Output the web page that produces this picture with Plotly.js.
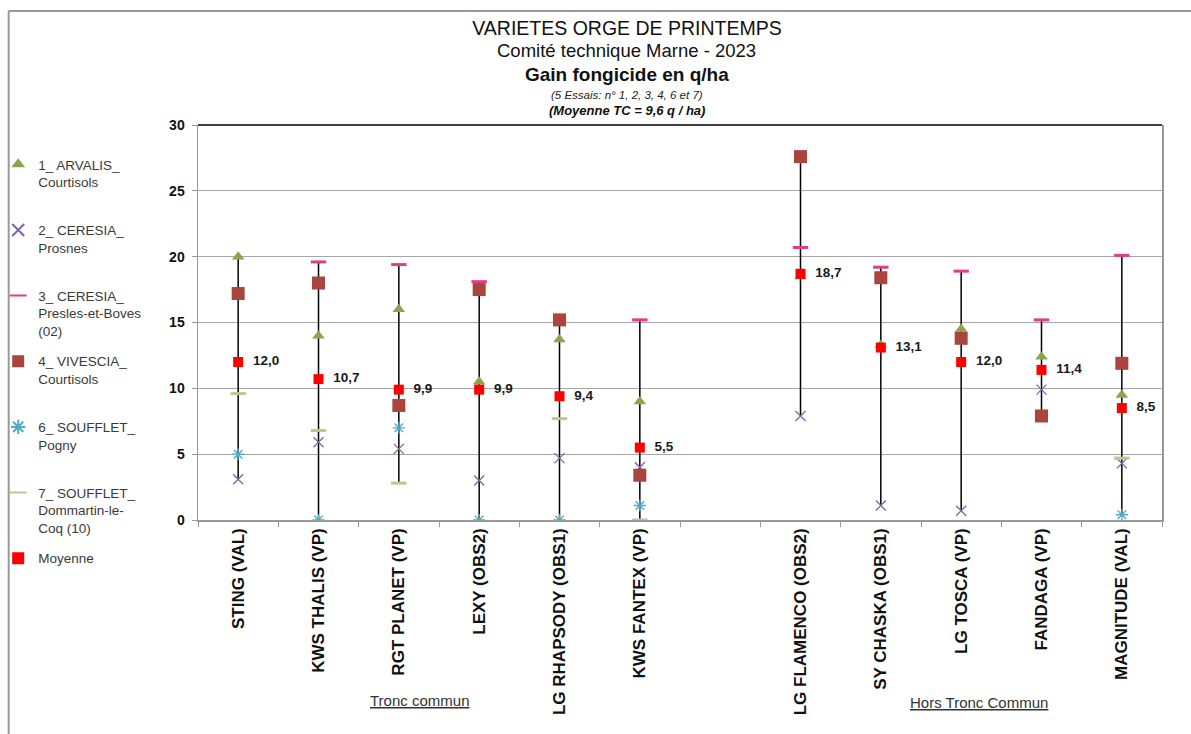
<!DOCTYPE html>
<html>
<head>
<meta charset="utf-8">
<script src="https://cdn.plot.ly/plotly-3.0.1.min.js"></script>
<style>html,body{margin:0;padding:0;background:#fff;}#chart{width:1191px;height:734px;}</style>
</head>
<body>
<div id="chart"></div>
<script>
// Categories (the empty slot separates "Tronc commun" from "Hors Tronc Commun")
const categories = ["STING (VAL)", "KWS THALIS (VP)", "RGT PLANET (VP)", "LEXY (OBS2)", "LG RHAPSODY (OBS1)", "KWS FANTEX (VP)", "\u00a0", "LG FLAMENCO (OBS2)", "SY CHASKA (OBS1)", "LG TOSCA (VP)", "FANDAGA (VP)", "MAGNITUDE (VAL)"];

// Series values (q/ha), null = no value
const arvalis   = [20.0, 14.0, 16.0, 10.5, 13.7, 9.0, null, 18.5, 13.3, 14.5, 12.4, 9.5];
const ceresiaPr = [3.1, 5.9, 5.4, 3.0, 4.7, 4.0, null, 7.9, 1.1, 0.7, 9.9, 4.3];
const ceresiaPB = [null, 19.6, 19.4, 18.1, null, 15.2, null, 20.7, 19.2, 18.9, 15.2, 20.1];
const vivescia  = [17.2, 18.0, 8.7, 17.5, 15.2, 3.4, null, 27.6, 18.4, 13.8, 7.9, 11.9];
const soufPogny = [5.0, 0.0, 7.0, 0.0, 0.0, 1.1, null, null, null, null, null, 0.4];
const soufDom   = [9.6, 6.8, 2.8, null, 7.7, 0.0, null, null, null, null, null, 4.7];
const moyenne   = [12.0, 10.7, 9.9, 9.9, 9.4, 5.5, null, 18.7, 13.1, 12.0, 11.4, 8.5];

const seriesNames = ["1_ ARVALIS_<br>Courtisols<br> ", "2_ CERESIA_<br>Prosnes<br> ", "3_ CERESIA_<br>Presles-et-Boves<br>(02)", "4_ VIVESCIA_<br>Courtisols<br> ", "6_ SOUFFLET_<br>Pogny<br> ", "7_ SOUFFLET_<br>Dommartin-le-<br>Coq (10)", "Moyenne"];
const yTicks = [0, 5, 10, 15, 20, 25, 30];

const allSeries = [arvalis, ceresiaPr, ceresiaPB, vivescia, soufPogny, soufDom, moyenne];

// High-low lines computed from the data
const hlX = [], hlY = [];
categories.forEach((c, i) => {
  const vals = allSeries.map(s => s[i]).filter(v => v !== null && v !== undefined);
  if (vals.length) {
    hlX.push(c, c, null);
    hlY.push(Math.min(...vals), Math.max(...vals), null);
  }
});

const traces = [
  {x: hlX, y: hlY, type: 'scatter', mode: 'lines', line: {color: '#000', width: 1.5}, showlegend: false, hoverinfo: 'skip'},
  {x: categories, y: arvalis, name: seriesNames[0], legendgroup: 'a', type: 'scatter', mode: 'markers',
   marker: {symbol: 'triangle-up', size: 11, color: '#8BA54E'}},
  {x: categories, y: ceresiaPr, name: seriesNames[1], legendgroup: 'b', type: 'scatter', mode: 'markers',
   marker: {symbol: 'x-thin-open', size: 10, color: '#8064A2', line: {width: 1.3, color: '#8064A2'}}},
  {x: categories, y: ceresiaPB, name: seriesNames[2], legendgroup: 'c', type: 'scatter', mode: 'markers',
   marker: {symbol: 'line-ew-open', size: 11, color: '#E03C8A', line: {width: 3, color: '#E03C8A'}}},
  {x: categories, y: vivescia, name: seriesNames[3], legendgroup: 'd', type: 'scatter', mode: 'markers',
   marker: {symbol: 'square', size: 13, color: '#A9443F'}},
  {x: categories, y: soufPogny, name: seriesNames[4], legendgroup: 'e', type: 'scatter', mode: 'markers',
   marker: {symbol: 'asterisk-open', size: 10, color: '#4BACC6', line: {width: 1.3, color: '#4BACC6'}}},
  {x: categories, y: soufDom, name: seriesNames[5], legendgroup: 'f', type: 'scatter', mode: 'markers',
   marker: {symbol: 'line-ew-open', size: 11, color: '#B6CB8F', line: {width: 3, color: '#B6CB8F'}}},
  {x: categories, y: moyenne, name: seriesNames[6], legendgroup: 'g', type: 'scatter', mode: 'markers+text',
   marker: {symbol: 'square', size: 10, color: '#FF0000'},
   text: moyenne.map(v => v === null ? '' : '\u00a0\u00a0' + v.toFixed(1).replace('.', ',')),
   textposition: 'middle right',
   textfont: {family: 'Liberation Sans, Arial, sans-serif', size: 13.5, color: '#1a1a1a', weight: 'bold'}}
];

const PW = 965, PH = 395; // plot width/height in px
const px = x => (x - 198) / PW;
const py = y => (520 - y) / PH;

const layout = {
  width: 1191, height: 734,
  margin: {l: 198, r: 29, t: 125, b: 214, autoexpand: false},
  paper_bgcolor: '#fff', plot_bgcolor: '#fff',
  font: {family: 'Liberation Sans, Arial, sans-serif', color: '#000'},
  title: {text: 'VARIETES ORGE DE PRINTEMPS', x: 627 / 1191, xanchor: 'center', y: 1 - 28 / 734, yanchor: 'middle',
          font: {size: 19.5, color: '#111', family: 'Liberation Sans, Arial, sans-serif'}},
  showlegend: true,
  legend: {x: px(-2), xanchor: 'left', y: py(149), yanchor: 'top', traceorder: 'grouped', tracegroupgap: 10,
           valign: 'top', itemsizing: 'constant', bgcolor: 'rgba(0,0,0,0)', maxheight: 720,
           font: {size: 13.5, color: '#3a3a3a', family: 'Liberation Sans, Arial, sans-serif'}, itemwidth: 30},
  xaxis: {type: 'category', categoryorder: 'array', categoryarray: categories, range: [-0.5, 11.5],
          tickangle: -90, tickfont: {size: 17, color: '#111', weight: 'bold'},
          ticks: 'outside', ticklen: 5, tickcolor: '#999', tickson: 'boundaries',
          showline: true, linecolor: '#999', linewidth: 1.5, showgrid: false, zeroline: false, fixedrange: true},
  yaxis: {range: [0, 30], tickvals: yTicks, ticktext: yTicks.map(String),
          tickfont: {size: 14, color: '#111', weight: 'bold'},
          ticks: 'outside', ticklen: 5, tickcolor: '#999', ticklabelstandoff: 4,
          showline: true, linecolor: '#999', linewidth: 1.5, mirror: true,
          showgrid: true, gridcolor: '#A6A6A6', gridwidth: 1.2, zeroline: false, fixedrange: true},
  shapes: [
    {type: 'line', xref: 'paper', yref: 'paper', x0: 0, x1: 1, y0: 1, y1: 1, line: {color: '#000', width: 1.5}},
    {type: 'line', xref: 'paper', yref: 'paper', x0: px(8.5), x1: px(1200), y0: py(11), y1: py(11), line: {color: '#999', width: 2}},
    {type: 'line', xref: 'paper', yref: 'paper', x0: px(8.5), x1: px(8.5), y0: py(11), y1: py(740), line: {color: '#999', width: 2}}
  ],
  annotations: [
    {text: 'Comité technique Marne - 2023', xref: 'paper', yref: 'paper', x: px(627), y: py(50), showarrow: false,
     xanchor: 'center', yanchor: 'middle', font: {size: 18.5, color: '#111'}},
    {text: '<b>Gain fongicide en q/ha</b>', xref: 'paper', yref: 'paper', x: px(627), y: py(74.5), showarrow: false,
     xanchor: 'center', yanchor: 'middle', font: {size: 19, color: '#111'}},
    {text: '<i>(5 Essais: n° 1, 2, 3, 4, 6 et 7)</i>', xref: 'paper', yref: 'paper', x: px(627), y: py(94.5), showarrow: false,
     xanchor: 'center', yanchor: 'middle', font: {size: 11.5, color: '#222'}},
    {text: '<b><i>(Moyenne TC = 9,6 q / ha)</i></b>', xref: 'paper', yref: 'paper', x: px(627), y: py(110), showarrow: false,
     xanchor: 'center', yanchor: 'middle', font: {size: 13, color: '#111'}},
    {text: '<u>Tronc commun</u>', xref: 'paper', yref: 'paper', x: px(420), y: py(700), showarrow: false,
     xanchor: 'center', yanchor: 'middle', font: {size: 15, color: '#333', family: 'Liberation Sans Narrow, Liberation Sans, Arial, sans-serif'}},
    {text: '<u>Hors Tronc Commun</u>', xref: 'paper', yref: 'paper', x: px(980), y: py(702), showarrow: false,
     xanchor: 'center', yanchor: 'middle', font: {size: 15, color: '#333', family: 'Liberation Sans Narrow, Liberation Sans, Arial, sans-serif'}}
  ]
};

Plotly.newPlot('chart', traces, layout, {displayModeBar: false, staticPlot: true});
</script>
</body>
</html>
